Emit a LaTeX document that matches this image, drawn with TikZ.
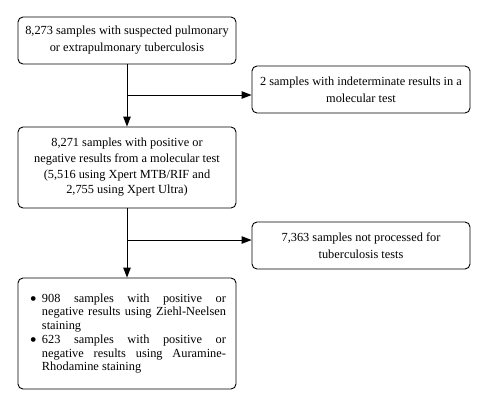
\documentclass[tikz,border=0pt]{standalone}
\usepackage{fontspec}
\setmainfont{Liberation Serif}
\usetikzlibrary{arrows.meta}
\newcommand{\bigbul}{\makebox[12bp][l]{\raisebox{-3.6bp}{\scalebox{1.6}{\textbullet}}}}
\begin{document}
\begin{tikzpicture}[x=1bp,y=-1bp,
  box/.style={draw,rounded corners=5bp,line width=0.9bp,minimum width=218bp,inner sep=0pt,align=center,font=\fontsize{12.4}{17}\selectfont},
  arr/.style={-{Triangle[length=10bp,width=7.5bp]},line width=0.9bp}]
\useasboundingbox[fill=white] (0,0) rectangle (488,404);
\node[box,minimum height=47bp] (b1) at (127,40.5) {8,273 samples with suspected pulmonary\\or extrapulmonary tuberculosis};
\node[box,minimum height=47bp] (b2) at (361,89.5) {2 samples with indeterminate results in a\\molecular test};
\node[box,minimum height=81bp,font=\fontsize{12.4}{15.7}\selectfont] (b3) at (127,167.5) {8,271 samples with positive or\\negative results from a molecular test\\(5,516 using Xpert MTB/RIF and\\2,755 using Xpert Ultra)};
\node[box,minimum height=47bp] (b4) at (361,245.5) {7,363 samples not processed for\\tuberculosis tests};
\node[box,minimum height=111bp] (b5) at (127,333.5) {};
\node[inner sep=0pt,text width=196bp,align=justify,font=\fontsize{12.4}{13.8}\selectfont] (t5) at (128,333.5) {%
\hyphenpenalty=10000\exhyphenpenalty=10000
\hangindent=12bp\hangafter=1\noindent\bigbul 908 samples with positive or\linebreak negative results using Ziehl-Neelsen\linebreak staining\par
\hangindent=12bp\hangafter=1\noindent\bigbul 623 samples with positive or\linebreak negative results using Auramine-\linebreak Rhodamine staining\par};
\coordinate (j1) at (127,95);
\coordinate (j2) at (127,240);
\draw[arr] (b1.south) -- (b3.north);
\draw[arr] (j1) -- (b2.west |- j1);
\draw[arr] (b3.south) -- (b5.north);
\draw[arr] (j2) -- (b4.west |- j2);
\end{tikzpicture}
\end{document}
